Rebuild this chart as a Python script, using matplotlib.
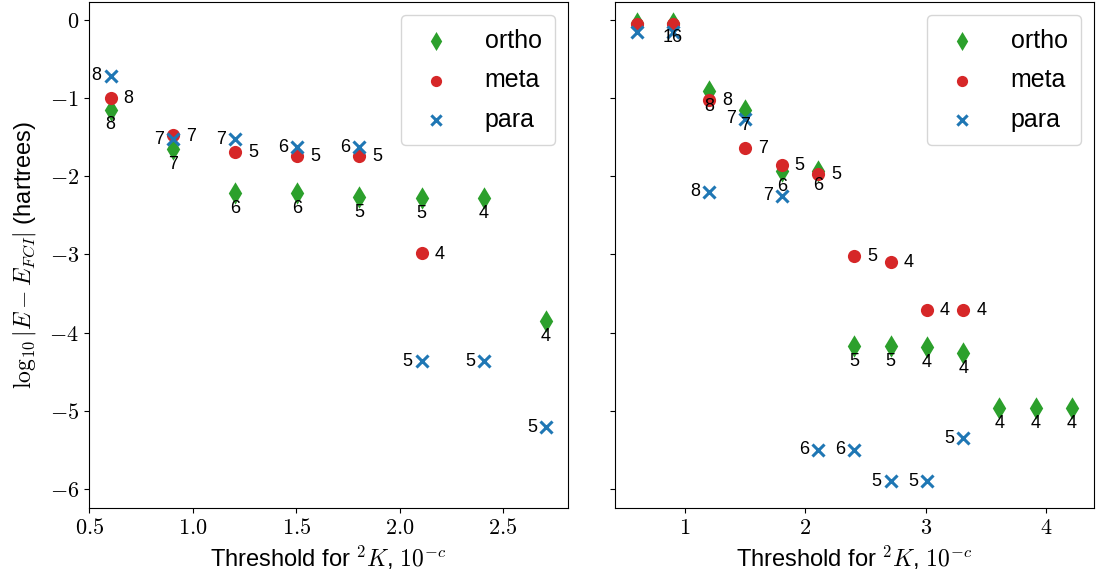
import matplotlib
matplotlib.use("Agg")
import matplotlib.pyplot as plt
from matplotlib.ticker import FormatStrFormatter

plt.rcParams['font.family'] = ['Liberation Sans', 'DejaVu Sans']
plt.rcParams['mathtext.fontset'] = 'cm'

# thresholds (x) for each panel
x_left = [0.602, 0.903, 1.204, 1.505, 1.806, 2.107, 2.408, 2.709]
x_right = [0.602, 0.903, 1.204, 1.505, 1.806, 2.107, 2.408, 2.709,
           3.010, 3.311, 3.612, 3.913, 4.214]

# left panel
ortho_left = [-1.15, -1.66, -2.22, -2.22, -2.27, -2.28, -2.28, -3.85]
ortho_left_lab = ['8', '7', '6', '6', '5', '5', '4', '4']
meta_left = [-1.00, -1.48, -1.69, -1.74, -1.74, -2.99]
meta_left_lab = ['8', '7', '5', '5', '5', '4']
para_left = [-0.72, -1.53, -1.53, -1.63, -1.63, -4.37, -4.37, -5.21]
para_left_lab = ['8', '7', '7', '6', '6', '5', '5', '5']

# right panel
ortho_right = [-0.04, -0.04, -0.91, -1.16, -1.94, -1.93, -4.17, -4.17,
               -4.19, -4.26, -4.97, -4.97, -4.97]
ortho_right_lab = ['', '16', '8', '7', '6', '6', '5', '5', '4', '4', '4', '4', '4']
meta_right = [-0.055, -0.055, -1.03, -1.64, -1.86, -1.97, -3.02, -3.10, -3.71, -3.71]
meta_right_lab = ['', '', '8', '7', '5', '5', '5', '4', '4', '4']
para_right = [-0.16, -0.16, -2.20, -1.27, -2.25, -5.50, -5.50, -5.90, -5.90, -5.35]
para_right_lab = ['', '', '8', '7', '7', '6', '6', '5', '5', '5']

series = ['ortho', 'meta', 'para']
colors = {'ortho': '#2ca02c', 'meta': '#d62728', 'para': '#1f77b4'}
markers = {'ortho': 'd', 'meta': 'o', 'para': 'x'}
sizes = {'ortho': 130, 'meta': 90, 'para': 75}
# where the number label sits relative to the point (points)
offsets = {'ortho': (0, -11), 'meta': (13, -0.5), 'para': (-10, 0)}

fig, (ax1, ax2) = plt.subplots(1, 2, figsize=(10.96, 5.79), dpi=100, sharey=True)
fig.subplots_adjust(left=0.081, right=0.998, top=0.996, bottom=0.123, wspace=0.098)

panels = [
    (ax1, x_left, {'ortho': (ortho_left, ortho_left_lab),
                   'meta': (meta_left, meta_left_lab),
                   'para': (para_left, para_left_lab)}),
    (ax2, x_right, {'ortho': (ortho_right, ortho_right_lab),
                    'meta': (meta_right, meta_right_lab),
                    'para': (para_right, para_right_lab)}),
]

for ax, xs, data in panels:
    for name in series:
        ys, labs = data[name]
        xx = xs[:len(ys)]
        ax.scatter(xx, ys, s=sizes[name], c=colors[name], marker=markers[name],
                   linewidths=2.2 if name == 'para' else 0, label=name)
        for x, y, t in zip(xx, ys, labs):
            if t:
                ax.annotate(t, (x, y), xytext=offsets[name], textcoords='offset points',
                            ha='center', va='center', fontsize=13)
    ax.legend(loc='upper right', fontsize=18, scatterpoints=1, borderpad=0.55,
              labelspacing=0.62, handlelength=1.7, handletextpad=1.1, markerscale=0.85)
    ax.set_xlabel(r'Threshold for $^2K$, $10^{-c}$', fontsize=17)
    ax.tick_params(labelsize=16)
    ax.yaxis.set_major_formatter(FormatStrFormatter(r'$%d$'))

ax1.xaxis.set_major_formatter(FormatStrFormatter(r'$%.1f$'))
ax2.xaxis.set_major_formatter(FormatStrFormatter(r'$%d$'))
ax1.set_ylim(-6.24, 0.22)
ax1.set_yticks([0, -1, -2, -3, -4, -5, -6])
ax1.set_ylabel(r'$\log_{10}|E - E_{FCI}|$ (hartrees)', fontsize=17, labelpad=8)

plt.savefig('out.png')
